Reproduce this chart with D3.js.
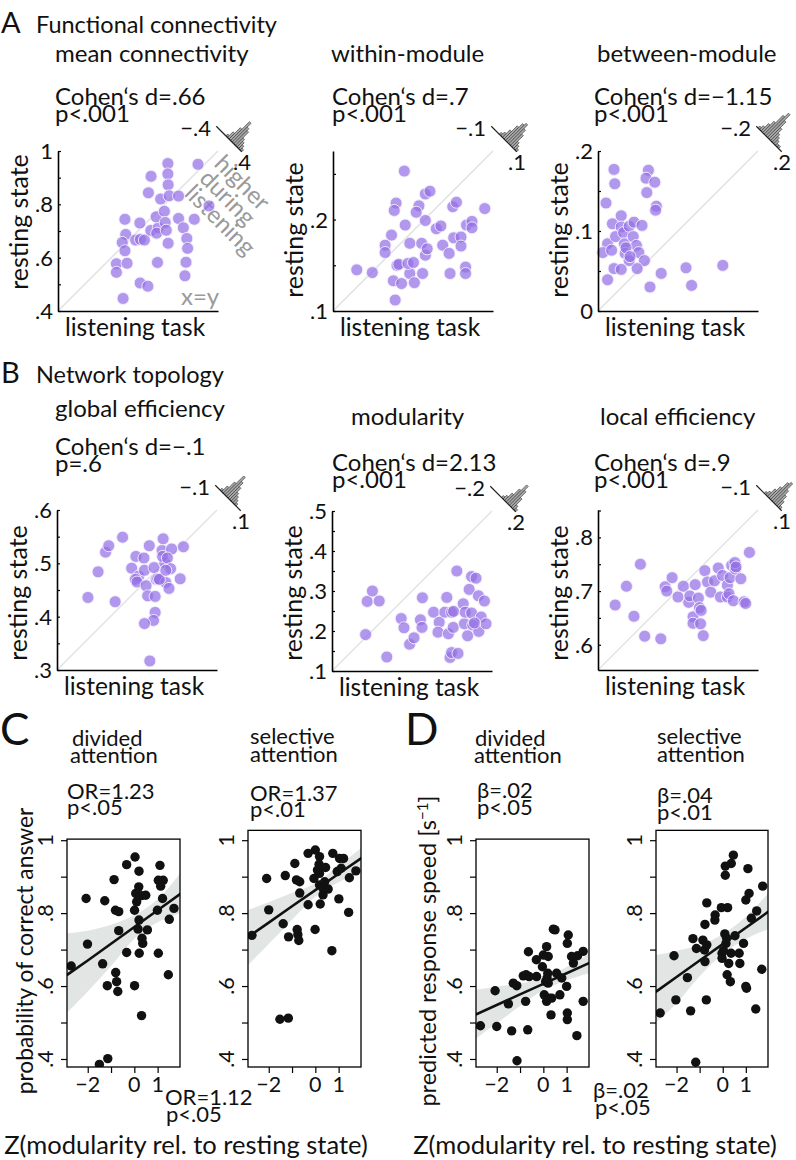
<!DOCTYPE html>
<html><head><meta charset="utf-8">
<script src="https://cdn.jsdelivr.net/npm/d3@7"></script>
<style>body{margin:0;background:#fff} text{font-family:Lato,'Open Sans',sans-serif;}</style>
</head><body><script>
// ---------------- DATA ----------------
// A: functional connectivity (x = listening task, y = resting state)
const meanConnListen = [.651,.654,.641,.651,.619,.659,.619,.644,.691,.709,.724,.707,.708,.737,.749,.739,.748,.776,.770,.773,.768,.812,.812,.813,.785,.817,.852,.799,.802,.806,.813,.852,.870,.883,.886,.880,.876,.911,.925,.966];
const meanConnRest   = [.744,.687,.657,.626,.577,.579,.545,.447,.666,.669,.666,.730,.505,.493,.905,.843,.702,.712,.692,.582,.753,.953,.914,.873,.820,.832,.831,.774,.732,.703,.654,.747,.712,.672,.635,.583,.532,.744,.950,.794];
const withinListen = [.126,.143,.168,.178,.169,.167,.164,.157,.157,.170,.172,.166,.175,.184,.182,.188,.189,.179,.184,.194,.191,.201,.201,.206,.197,.201,.203,.198,.213,.218,.220,.227,.232,.240,.240,.231,.235,.228,.245,.245,.246,.252,.252,.266];
const withinRest   = [.145,.142,.112,.253,.218,.210,.183,.172,.164,.150,.151,.133,.130,.141,.152,.153,.131,.194,.174,.215,.208,.199,.228,.231,.174,.161,.168,.141,.190,.193,.172,.163,.180,.181,.171,.214,.219,.141,.148,.141,.194,.198,.191,.212];
const betweenListen = [.020,.021,.010,.018,.012,.006,.017,.020,.012,.029,.029,.022,.032,.033,.029,.034,.039,.039,.045,.044,.048,.051,.055,.058,.049,.063,.060,.071,.061,.073,.072,.079,.065,.110,.117,.156,.035,.040];
const betweenRest   = [.177,.159,.135,.109,.084,.073,.076,.053,.039,.119,.105,.093,.098,.084,.052,.072,.063,.106,.111,.093,.082,.073,.107,.063,.053,.176,.166,.161,.148,.131,.126,.047,.030,.054,.032,.057,.079,.068];
// B: network topology
const globEffListen = [.358,.377,.391,.397,.409,.423,.440,.448,.463,.453,.447,.464,.450,.467,.473,.482,.486,.489,.470,.484,.484,.481,.464,.474,.499,.497,.502,.498,.515,.507,.513,.504,.510,.537,.531,.492,.504];
const globEffRest   = [.436,.484,.521,.533,.428,.549,.491,.513,.510,.476,.470,.487,.465,.458,.533,.492,.470,.471,.439,.438,.408,.393,.387,.317,.546,.524,.501,.513,.527,.510,.490,.464,.453,.531,.471,.470,.487];
const modListen = [.184,.188,.201,.218,.237,.273,.280,.294,.305,.321,.325,.326,.354,.368,.365,.387,.382,.391,.399,.404,.403,.395,.399,.415,.412,.428,.431,.433,.449,.460,.443,.449,.452,.439,.466,.473,.467,.485,.481,.456];
const modRest   = [.191,.274,.300,.275,.135,.231,.208,.167,.183,.228,.209,.283,.247,.222,.197,.284,.247,.193,.247,.249,.209,.134,.146,.144,.350,.268,.218,.247,.336,.332,.304,.245,.215,.188,.288,.235,.199,.218,.275,.220];
const locEffListen = [.585,.606,.620,.632,.640,.670,.678,.681,.691,.702,.712,.722,.724,.734,.730,.730,.744,.740,.742,.745,.749,.752,.757,.763,.770,.777,.781,.785,.794,.794,.799,.802,.809,.808,.797,.805,.819,.825,.828,.835,.810];
const locEffRest   = [.674,.709,.653,.750,.616,.611,.708,.700,.725,.689,.709,.679,.691,.712,.652,.640,.639,.687,.669,.664,.617,.738,.717,.698,.719,.743,.689,.729,.689,.711,.725,.748,.741,.753,.695,.682,.723,.680,.677,.772,.745];
// difference histograms (counts in 16 bins spanning -range..+range)
const histMeanConn = [0,0,0,0,0,0,1,3,6,10,8,7,4,3,2,1];
const histWithin   = [0,0,0,0,0,1,2,4,7,9,10,8,6,3,2,1];
const histBetween  = [0,1,2,4,6,10,12,9,6,4,3,2,1,1,0,0];
const histGlobEff  = [0,0,0,1,3,6,10,8,6,4,3,2,1,0,0,0];
const histMod      = [0,0,0,0,0,0,0,1,2,4,7,10,8,5,2,1];
const histLocEff   = [0,0,0,0,0,1,2,4,6,9,10,7,5,3,1,0];
// C/D: Z(modularity) vs behaviour
const divAccZ = [-2.71,-2.07,-2.01,-1.36,-1.27,-0.87,-1.16,-0.80,-0.76,-0.71,-0.81,-0.67,-0.67,-0.33,-0.33,-1.50,-1.14,0.03,0.01,0.20,0.19,0.06,0.10,0.01,0.20,0.16,0.36,0.33,0.56,0.21,0.49,0.31,1.10,1.03,1.24,1.13,1.21,0.99,1.03,1.46,1.50,1.70,0.31];
const divAcc  = [.655,.840,.715,.661,.834,.892,.601,.637,.612,.585,.808,.804,.752,.692,.933,.385,.401,.954,.601,.915,.872,.854,.831,.808,.781,.756,.717,.731,.754,.690,.849,.848,.931,.890,.890,.874,.840,.808,.690,.631,.783,.813,.519];
const selAccZ = [-2.72,-2.09,-2.00,-1.38,-1.29,-1.15,-1.16,-1.52,-0.88,-0.81,-0.67,-0.67,-0.78,-0.75,-0.71,-0.31,-0.31,0.00,-0.06,-0.01,0.18,0.09,0.16,0.18,0.18,0.21,0.44,0.33,0.33,0.55,0.40,0.75,0.71,1.04,1.21,1.01,0.94,1.11,1.46,1.43,1.74];
const selAcc  = [.739,.895,.809,.771,.903,.735,.512,.509,.936,.891,.886,.855,.755,.741,.725,.964,.823,.973,.895,.755,.955,.918,.934,.909,.877,.825,.925,.868,.850,.866,.886,.964,.697,.950,.950,.839,.914,.923,.897,.802,.916];
const divSpdZ = [-2.70,-2.07,-2.00,-1.50,-1.36,-1.29,-1.14,-1.13,-0.86,-0.74,-0.76,-0.67,-0.64,-0.61,-0.30,-0.29,0.00,0.14,0.21,0.04,0.16,0.19,0.21,0.24,0.14,0.43,0.50,0.36,0.33,0.57,0.79,0.71,1.07,1.03,1.00,1.03,1.03,1.21,1.29,1.47,1.71,1.71,1.44,-0.04,0.10];
const divSpd  = [.491,.587,.489,.551,.477,.608,.601,.395,.628,.631,.558,.480,.694,.626,.672,.626,.685,.708,.681,.576,.622,.635,.608,.567,.558,.756,.754,.567,.521,.635,.622,.576,.740,.717,.599,.526,.508,.681,.663,.683,.695,.558,.464,.653,.612];
const selSpdZ = [-2.71,-2.11,-2.03,-1.53,-1.39,-1.29,-1.17,-1.14,-0.86,-0.79,-0.77,-0.71,-0.69,-0.77,-0.69,-0.33,-0.34,-0.06,-0.03,-0.03,0.03,0.11,0.11,0.21,0.09,0.17,0.14,0.19,0.26,0.33,0.36,0.37,0.46,0.53,0.71,0.74,0.90,1.00,1.03,1.09,1.00,1.14,1.24,1.47,1.43,1.69,1.73];
const selSpd  = [.526,.683,.562,.623,.532,.730,.391,.703,.726,.699,.667,.562,.828,.769,.713,.795,.781,.815,.690,.676,.697,.929,.904,.815,.743,.731,.717,.631,.662,.612,.690,.936,.959,.738,.690,.662,.717,.599,.594,.922,.836,.854,.786,.806,.537,.646,.874];
// model fits with confidence bands, read at these Z values
const fitZ = [-2.9,-2,-1,0,1,2];
const divAccFit = [.630,.670,.716,.762,.808,.854], divAccLo = [.526,.585,.655,.730,.775,.800], divAccHi = [.745,.752,.768,.795,.838,.912];
const selAccFit = [.734,.774,.819,.863,.908,.952], selAccLo = [.657,.715,.782,.845,.885,.912], selAccHi = [.808,.830,.855,.882,.930,.980];
const divSpdFit = [.522,.548,.577,.606,.635,.664], divSpdLo = [.456,.498,.545,.589,.616,.636], divSpdHi = [.590,.598,.607,.622,.652,.690];
const selSpdFit = [.584,.625,.670,.715,.760,.805], selSpdLo = [.500,.553,.627,.688,.729,.757], selSpdHi = [.685,.697,.712,.742,.790,.857];
// tick values
const regYTicks = [.4,.5,.6,.7,.8,.9,1], regYLabels = [.4,.6,.8,1];
const regXTicks = [-2,-1,0,1], regXLabels = [-2,0,1];

// ---------------- DRAWING ----------------
const svg = d3.select("body").append("svg").attr("width",796).attr("height",1160);
const FS = 24, FS2 = 22;
function txt(x,y,s,o={}){
  const t = svg.append("text").attr("x",x).attr("y",y).text(s)
    .attr("font-size",o.size||FS).attr("fill",o.fill||"#111");
  if(o.anchor) t.attr("text-anchor",o.anchor);
  if(o.rot!=null) t.attr("transform",`rotate(${o.rot},${x},${y})`);
  return t;
}
const fmt = v => v===0?"0":(v===1?"1":d3.format(".1f")(v).replace(/^0/,""));

// headers
txt(1,33,"A",{size:29}); txt(36,33,"Functional connectivity",{size:23.5});
txt(1,383,"B",{size:29}); txt(36,383,"Network topology",{size:23.5});

const SZ = 160;
const scatterPanels = [
 {left:58,top:151,dom:[.4,1],major:[.4,.6,.8,1],minor:[.5,.7,.9],xs:meanConnListen,ys:meanConnRest,hist:histMeanConn,hr:.4,
  title:"mean connectivity",tx:55,ty:62,s1:"Cohen‘s d=.66",s2:"p<.001",sx:55,sy:105,ly:222},
 {left:333,top:151,dom:[.1,.275],major:[.1,.2],minor:[.15,.25],xs:withinListen,ys:withinRest,hist:histWithin,hr:.1,
  title:"within-module",tx:331,ty:62,s1:"Cohen‘s d=.7",s2:"p<.001",sx:332,sy:105,ly:230},
 {left:598,top:151,dom:[0,.2],major:[0,.1,.2],minor:[.05,.15],xs:betweenListen,ys:betweenRest,hist:histBetween,hr:.2,
  title:"between-module",tx:597,ty:62,s1:"Cohen‘s d=−1.15",s2:"p<.001",sx:594,sy:105,ly:230},
 {left:57,top:510,dom:[.3,.6],major:[.3,.4,.5,.6],minor:[.35,.45,.55],xs:globEffListen,ys:globEffRest,hist:histGlobEff,hr:.1,
  title:"global efficiency",tx:55,ty:417,s1:"Cohen‘s d=−.1",s2:"p=.6",sx:55,sy:455,ly:593},
 {left:332,top:511,dom:[.1,.5],major:[.1,.2,.3,.4,.5],minor:[.15,.25,.35,.45],xs:modListen,ys:modRest,hist:histMod,hr:.2,
  title:"modularity",tx:351,ty:425,s1:"Cohen‘s d=2.13",s2:"p<.001",sx:332,sy:471,ly:593},
 {left:598,top:510,dom:[.553,.851],major:[.6,.7,.8],minor:[.65,.75,.85],xs:locEffListen,ys:locEffRest,hist:histLocEff,hr:.1,
  title:"local efficiency",tx:600,ty:425,s1:"Cohen‘s d=.9",s2:"p<.001",sx:594,sy:471,ly:593}
];

scatterPanels.forEach((p,pi)=>{
  const right = p.left+SZ, bottom = p.top+SZ;
  const x = d3.scaleLinear().domain(p.dom).range([p.left,right]);
  const y = d3.scaleLinear().domain(p.dom).range([bottom,p.top]);
  const g = svg.append("g");
  // diagonal x=y
  g.append("line").attr("x1",x(p.dom[0])).attr("y1",y(p.dom[0])).attr("x2",x(p.dom[1])).attr("y2",y(p.dom[1]))
   .attr("stroke","#e2e2e2").attr("stroke-width",1.5);
  if(pi===0){
    const hg = g.append("g").attr("transform","translate(213,165) rotate(45)");
    ["higher","during","listening"].forEach((s,i)=>hg.append("text").attr("x",0).attr("y",i*21).text(s)
      .attr("font-size",FS).attr("fill","#9a9a9a"));
    g.append("text").attr("x",181).attr("y",305).text("x=y").attr("font-size",FS).attr("fill","#9a9a9a");
  }
  // points
  g.selectAll("circle").data(p.xs).join("circle")
   .attr("cx",d=>x(d)).attr("cy",(d,i)=>y(p.ys[i])).attr("r",6)
   .attr("fill","#9470e4").attr("fill-opacity",0.72).attr("stroke","#f4efff").attr("stroke-width",0.9);
  // axes
  const ay = g.append("g").attr("transform",`translate(${p.left},0)`)
   .call(d3.axisLeft(y).tickValues(p.major.concat(p.minor)).tickSize(-3).tickSizeOuter(0).tickFormat(""));
  ay.select(".domain").attr("stroke","#000").attr("stroke-width",1.6);
  ay.selectAll(".tick line").attr("stroke","#000").attr("stroke-width",1.2);
  const ax = g.append("g").attr("transform",`translate(0,${bottom})`)
   .call(d3.axisBottom(x).tickValues([]).tickSizeOuter(0));
  ax.select(".domain").attr("stroke","#000").attr("stroke-width",1.6);
  p.major.forEach(v=>txt(p.left-5,y(v)+8,fmt(v),{anchor:"end",size:FS2}));
  // labels
  txt(p.left-30,p.ly,"resting state",{anchor:"middle",rot:-90,size:25});
  txt(p.left+77,bottom+25,"listening task",{anchor:"middle",size:24.5});
  txt(p.tx,p.ty,p.title);
  txt(p.sx,p.sy,p.s1); txt(p.sx,p.sy+17,p.s2);
  // difference histogram
  const hx = d3.scaleLinear().domain([-p.hr,p.hr]).range([-18,18]);
  const hh = d3.scaleLinear().domain([0,12]).range([0,32]);
  const n = p.hist.length, bw = (p.hr*2)/n;
  const hgp = g.append("g").attr("transform",`translate(${right+11},${p.top-12}) rotate(45)`);
  hgp.selectAll("rect").data(p.hist).join("rect")
   .attr("x",(d,i)=>hx(-p.hr+i*bw)).attr("width",hx(bw)-hx(0))
   .attr("y",d=>-hh(d)).attr("height",d=>hh(d))
   .attr("fill","#a8a8a8").attr("stroke","#333").attr("stroke-width",0.6);
  hgp.append("line").attr("x1",hx(-p.hr)).attr("x2",hx(p.hr)).attr("y1",0).attr("y2",0)
   .attr("stroke","#222").attr("stroke-width",1.2);
  txt(right-7,p.top-15,"−"+fmt(p.hr),{anchor:"end",size:FS2});
  txt(right+15,p.top+19,fmt(p.hr),{size:FS2});
});

// ---------- C / D ----------
txt(0,745,"C",{size:44}); txt(405,745,"D",{size:44});
const yReg = d3.scaleLinear().domain([0.378,1.0]).range([1067,840.2]);
const regPanels = [
 {left:67,right:180,yHi:1.003,zs:divAccZ,vs:divAcc,fit:divAccFit,lo:divAccLo,hi:divAccHi,
  t1:["divided",72,746],t2:["attention",70,763],s1:["OR=1.23",67,799],s2:["p<.05",67,815]},
 {left:248,right:361,yHi:1.027,zs:selAccZ,vs:selAcc,fit:selAccFit,lo:selAccLo,hi:selAccHi,
  t1:["selective",250,744],t2:["attention",250,762],s1:["OR=1.37",250,801],s2:["p<.01",250,817]},
 {left:476,right:589,yHi:1.003,zs:divSpdZ,vs:divSpd,fit:divSpdFit,lo:divSpdLo,hi:divSpdHi,
  t1:["divided",475,746],t2:["attention",474,763],s1:["β=.02",477,798],s2:["p<.05",477,815]},
 {left:656,right:768,yHi:1.027,zs:selSpdZ,vs:selSpd,fit:selSpdFit,lo:selSpdLo,hi:selSpdHi,
  t1:["selective",657,744],t2:["attention",657,762],s1:["β=.04",657,803],s2:["p<.01",657,820]}
];
const defs = svg.append("defs");
regPanels.forEach((p,pi)=>{
  const x = d3.scaleLinear().domain([-2.89,1.96]).range([p.left,p.right]);
  const top = yReg(p.yHi), bottom = yReg(0.378);
  const cid = "clip"+pi;
  defs.append("clipPath").attr("id",cid).append("rect").attr("x",p.left).attr("y",top)
    .attr("width",p.right-p.left).attr("height",bottom-top);
  const g = svg.append("g");
  const inner = g.append("g").attr("clip-path",`url(#${cid})`);
  const band = fitZ.map((z,i)=>({z,f:p.fit[i],lo:p.lo[i],hi:p.hi[i]}));
  inner.append("path").datum(band)
   .attr("d",d3.area().curve(d3.curveMonotoneX).x(d=>x(d.z)).y0(d=>yReg(d.lo)).y1(d=>yReg(d.hi)))
   .attr("fill","#e1e5e3");
  inner.selectAll("circle").data(p.zs).join("circle")
   .attr("cx",d=>x(d)).attr("cy",(d,i)=>yReg(p.vs[i])).attr("r",4.7).attr("fill","#111");
  inner.append("path").datum(band)
   .attr("d",d3.line().x(d=>x(d.z)).y(d=>yReg(d.f)))
   .attr("fill","none").attr("stroke","#111").attr("stroke-width",2.6);
  g.append("rect").attr("x",p.left).attr("y",top).attr("width",p.right-p.left).attr("height",bottom-top)
   .attr("fill","none").attr("stroke","#000").attr("stroke-width",1.3);
  const ay = g.append("g").attr("transform",`translate(${p.left},0)`)
   .call(d3.axisLeft(yReg).tickValues(regYTicks).tickSize(6).tickFormat(""));
  ay.select(".domain").remove(); ay.selectAll(".tick line").attr("stroke","#000").attr("stroke-width",1.2);
  const ax = g.append("g").attr("transform",`translate(0,${bottom})`)
   .call(d3.axisBottom(x).tickValues(regXTicks).tickSize(6).tickFormat(""));
  ax.select(".domain").remove(); ax.selectAll(".tick line").attr("stroke","#000").attr("stroke-width",1.2);
  regYLabels.forEach(v=>txt(p.left-14,yReg(v),fmt(v),{anchor:"middle",rot:-90,size:21.5}));
  regXLabels.forEach(v=>txt(x(v),1092,v<0?"−"+Math.abs(v):String(v),{anchor:"middle",size:21.5}));
  [p.t1,p.t2,p.s1,p.s2].forEach(t=>txt(t[1],t[2],t[0],{size:22}));
});
txt(165,1105,"OR=1.12",{size:22}); txt(166,1122,"p<.05",{size:22});
txt(593,1098,"β=.02",{size:22}); txt(595,1115,"p<.05",{size:22});
txt(33,951,"probability of correct answer",{anchor:"middle",rot:-90,size:22.8});
const yl = txt(436,951,"predicted response speed [s",{anchor:"middle",rot:-90,size:23.5});
yl.append("tspan").attr("dy",-8).attr("font-size",15).text("−1");
yl.append("tspan").attr("dy",8).text("]");
txt(186,1154,"Z(modularity rel. to resting state)",{anchor:"middle",size:25.5});
txt(595,1154,"Z(modularity rel. to resting state)",{anchor:"middle",size:25.5});
</script></body></html>
